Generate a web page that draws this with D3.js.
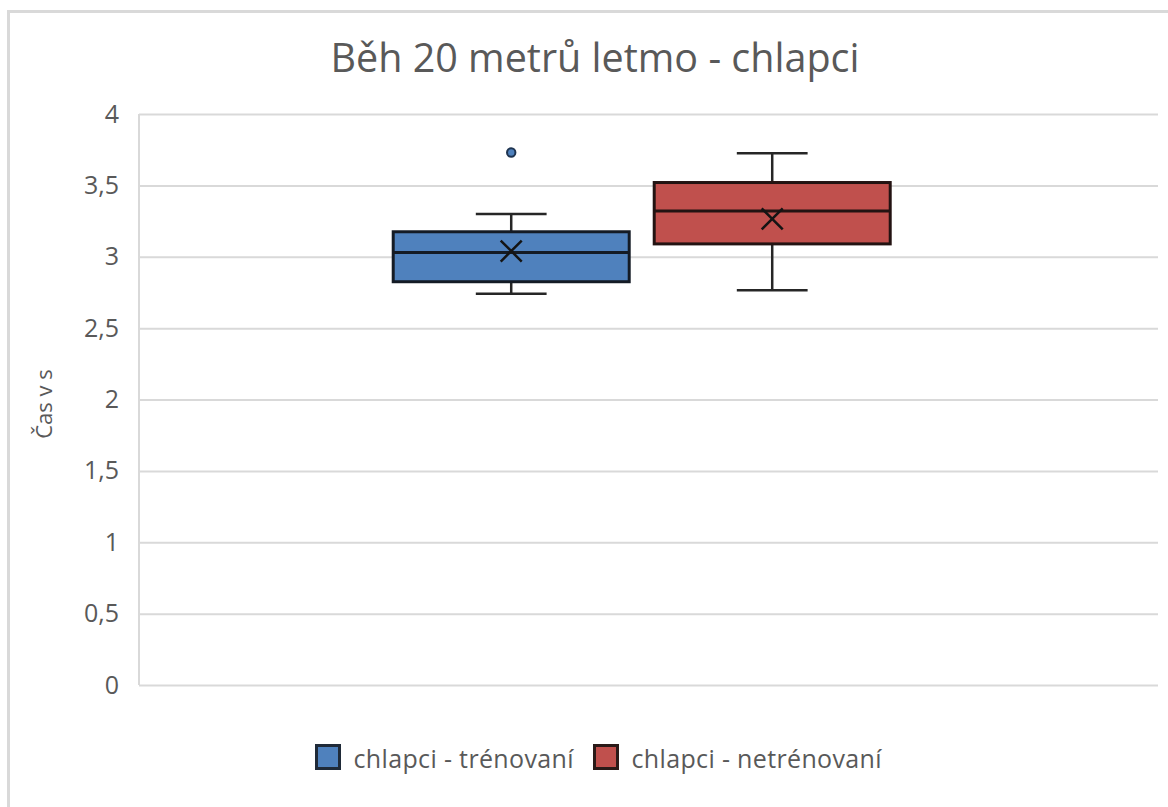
<!DOCTYPE html>
<html>
<head>
<meta charset="utf-8">
<script src="https://cdn.jsdelivr.net/npm/d3@7/dist/d3.min.js"></script>
<style>
  html, body { margin: 0; padding: 0; background: #ffffff; }
  svg { display: block; font-family: "Open Sans", "Noto Sans", sans-serif; }
</style>
</head>
<body>
<svg id="chart" width="1168" height="807"></svg>
<script>
// Box-plot statistics for each group (time in seconds)
const groups      = ["chlapci - trénovaní", "chlapci - netrénovaní"];
const whiskerLow  = [2.74, 2.765];
const quartile1   = [2.825, 3.09];
const medians     = [3.03, 3.32];
const quartile3   = [3.175, 3.52];
const whiskerHigh = [3.30, 3.725];
const means       = [3.04, 3.265];
const outliers    = [[3.73], []];
const fills       = ["#4f81bd", "#c0504d"];
const borders     = ["#141b25", "#231312"];

const yTicks = [0, 0.5, 1, 1.5, 2, 2.5, 3, 3.5, 4];
const titleText = "Běh 20 metrů letmo - chlapci";
const yTitleText = "Čas v s";

const svg = d3.select("#chart");
const plot = { left: 139, right: 1158, top: 114, bottom: 685 };

// Czech number format: decimal comma
const cz = d3.formatLocale({ decimal: ",", thousands: " ", grouping: [3], currency: ["", " Kč"] });
const fmt = cz.format("~g");

const y = d3.scaleLinear().domain([0, 4]).range([plot.bottom, plot.top]);
const x = d3.scaleBand().domain(groups)
  .range([plot.left, plot.right])
  .paddingInner(0.0958).paddingOuter(1.0).align(0.487);

// chart-area border
svg.append("rect")
  .attr("x", 8.5).attr("y", 11.5).attr("width", 1300).attr("height", 900)
  .attr("fill", "#ffffff").attr("stroke", "#d9d9d9").attr("stroke-width", 3);

// title
svg.append("text")
  .attr("x", 595).attr("y", 72)
  .attr("text-anchor", "middle")
  .attr("font-size", 39.5).attr("fill", "#595959")
  .text(titleText);

// horizontal gridlines + y tick labels
const yAxis = d3.axisLeft(y).tickValues(yTicks).tickFormat(fmt)
  .tickSize(-(plot.right - plot.left)).tickPadding(20);
const gy = svg.append("g").attr("transform", `translate(${plot.left},0)`).call(yAxis);
gy.select(".domain").remove();
gy.selectAll(".tick line").attr("stroke", "#d9d9d9").attr("stroke-width", 2);
gy.selectAll(".tick text")
  .attr("font-size", 25).attr("fill", "#595959")
  .attr("font-family", "'Open Sans', 'Noto Sans', sans-serif");

// vertical axis line
svg.append("line")
  .attr("x1", plot.left).attr("x2", plot.left)
  .attr("y1", y(4)).attr("y2", y(0))
  .attr("stroke", "#d9d9d9").attr("stroke-width", 2);

// y axis title
svg.append("text")
  .attr("transform", `translate(52,404) rotate(-90)`)
  .attr("text-anchor", "middle")
  .attr("font-size", 22).attr("fill", "#595959")
  .text(yTitleText);

// boxes
const data = groups.map((g, i) => ({
  g, i,
  lo: whiskerLow[i], q1: quartile1[i], med: medians[i], q3: quartile3[i],
  hi: whiskerHigh[i], mean: means[i], out: outliers[i]
}));

const bw = x.bandwidth();
const capW = bw * 0.3;
const boxes = svg.append("g").selectAll("g").data(data).join("g");

// whisker stems
boxes.append("line")
  .attr("x1", d => x(d.g) + bw / 2).attr("x2", d => x(d.g) + bw / 2)
  .attr("y1", d => y(d.hi)).attr("y2", d => y(d.q3))
  .attr("stroke", "#262626").attr("stroke-width", 2.5);
boxes.append("line")
  .attr("x1", d => x(d.g) + bw / 2).attr("x2", d => x(d.g) + bw / 2)
  .attr("y1", d => y(d.q1)).attr("y2", d => y(d.lo))
  .attr("stroke", "#262626").attr("stroke-width", 2.5);
// whisker caps
boxes.append("line")
  .attr("x1", d => x(d.g) + bw / 2 - capW / 2).attr("x2", d => x(d.g) + bw / 2 + capW / 2)
  .attr("y1", d => y(d.hi)).attr("y2", d => y(d.hi))
  .attr("stroke", "#262626").attr("stroke-width", 2.5);
boxes.append("line")
  .attr("x1", d => x(d.g) + bw / 2 - capW / 2).attr("x2", d => x(d.g) + bw / 2 + capW / 2)
  .attr("y1", d => y(d.lo)).attr("y2", d => y(d.lo))
  .attr("stroke", "#262626").attr("stroke-width", 2.5);

// interquartile box
boxes.append("rect")
  .attr("x", d => x(d.g)).attr("width", bw)
  .attr("y", d => y(d.q3)).attr("height", d => y(d.q1) - y(d.q3))
  .attr("fill", d => fills[d.i]).attr("stroke", d => borders[d.i]).attr("stroke-width", 3);

// median
boxes.append("line")
  .attr("x1", d => x(d.g)).attr("x2", d => x(d.g) + bw)
  .attr("y1", d => y(d.med)).attr("y2", d => y(d.med))
  .attr("stroke", d => borders[d.i]).attr("stroke-width", 3);

// mean marker (X)
const mk = 10.5;
boxes.append("path")
  .attr("d", d => {
    const cx = x(d.g) + bw / 2, cy = y(d.mean);
    return `M${cx - mk},${cy - mk}L${cx + mk},${cy + mk}M${cx - mk},${cy + mk}L${cx + mk},${cy - mk}`;
  })
  .attr("stroke", "#141414").attr("stroke-width", 2.5).attr("fill", "none");

// outlier points
boxes.selectAll("circle").data(d => d.out.map(v => ({ v, d })))
  .join("circle")
  .attr("cx", p => x(p.d.g) + bw / 2).attr("cy", p => y(p.v))
  .attr("r", 4.2)
  .attr("fill", p => fills[p.d.i]).attr("stroke", "#1e3450").attr("stroke-width", 2);

// legend
const legendX = [316.5, 594.5];
const lg = svg.append("g").selectAll("g").data(data).join("g")
  .attr("transform", (d, i) => `translate(${legendX[i]},745.5)`);
lg.append("rect").attr("width", 23).attr("height", 23)
  .attr("fill", d => fills[d.i]).attr("stroke", d => d.i === 0 ? "#1f2a38" : "#2a1a18").attr("stroke-width", 3);
lg.append("text").attr("x", 37).attr("y", 22.5)
  .attr("font-size", 25).attr("letter-spacing", 0.35).attr("fill", "#595959")
  .text(d => d.g);
</script>
</body>
</html>
